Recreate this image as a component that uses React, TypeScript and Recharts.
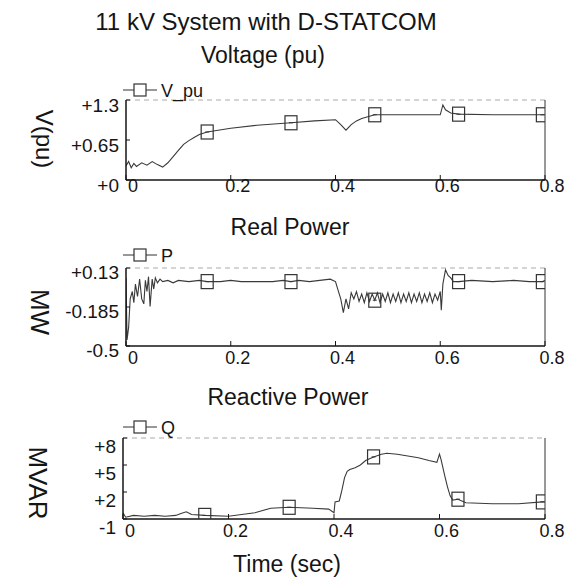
import { LineChart, Line, XAxis, YAxis, ReferenceLine } from 'recharts'

const font = '"Liberation Sans", Arial, sans-serif'
const ink = '#151515'

// time axis and marker positions (s)
const timeTicks = [0, 0.2, 0.4, 0.6, 0.8]
const markTimes = [0.155, 0.315, 0.475, 0.635, 0.795]

// voltage (pu)
const vTicks = [0, 0.65, 1.3]
const vSeries: [number, number][] = [
  [0, 0.23], [0.005, 0.3], [0.01, 0.2], [0.015, 0.27], [0.02, 0.22], [0.03, 0.28],
  [0.04, 0.24], [0.05, 0.3], [0.06, 0.25], [0.07, 0.21], [0.08, 0.28], [0.09, 0.38],
  [0.1, 0.48], [0.11, 0.58], [0.12, 0.64], [0.13, 0.69], [0.14, 0.74], [0.155, 0.78],
  [0.2, 0.84], [0.25, 0.89], [0.315, 0.93], [0.36, 0.96], [0.4, 0.98], [0.41, 0.9],
  [0.42, 0.81], [0.43, 0.9], [0.44, 0.96], [0.45, 1.0], [0.475, 1.06], [0.52, 1.06],
  [0.56, 1.06], [0.6, 1.06], [0.605, 1.22], [0.61, 1.14], [0.62, 1.09], [0.635, 1.07],
  [0.7, 1.06], [0.795, 1.06], [0.8, 1.06],
]

// real power (MW)
const pTicks = [-0.5, -0.185, 0.13]
const pSeries: [number, number][] = [
  [0, 0.05], [0.002, -0.45], [0.005, -0.35], [0.008, -0.12], [0.012, -0.06], [0.015, -0.15],
  [0.018, 0.0], [0.022, -0.1], [0.026, 0.04], [0.03, -0.12], [0.034, -0.16], [0.037, 0.03],
  [0.04, -0.06], [0.043, 0.06], [0.046, -0.18], [0.05, 0.04], [0.053, -0.04], [0.056, 0.05],
  [0.06, 0.01], [0.065, 0.04], [0.07, 0.02], [0.08, 0.03], [0.09, 0.01], [0.1, 0.03],
  [0.12, 0.02], [0.14, 0.03], [0.155, 0.02], [0.18, 0.02], [0.2, 0.03], [0.22, 0.02],
  [0.25, 0.02], [0.28, 0.02], [0.3, 0.03], [0.315, 0.02], [0.33, 0.03], [0.35, 0.02],
  [0.37, 0.03], [0.39, 0.04], [0.4, 0.02], [0.405, -0.05], [0.41, -0.12], [0.415, -0.23],
  [0.42, -0.12], [0.425, -0.2], [0.43, -0.07], [0.435, -0.12], [0.44, -0.06], [0.445, -0.14],
  [0.45, -0.08], [0.455, -0.15], [0.46, -0.07], [0.465, -0.14], [0.47, -0.08], [0.475, -0.13],
  [0.48, -0.07], [0.485, -0.15], [0.49, -0.08], [0.495, -0.14], [0.5, -0.07], [0.505, -0.15],
  [0.51, -0.08], [0.515, -0.14], [0.52, -0.07], [0.525, -0.15], [0.53, -0.08], [0.535, -0.14],
  [0.54, -0.07], [0.545, -0.15], [0.55, -0.08], [0.555, -0.14], [0.56, -0.07], [0.565, -0.15],
  [0.57, -0.08], [0.575, -0.14], [0.58, -0.07], [0.585, -0.15], [0.59, -0.08], [0.595, -0.13],
  [0.6, -0.06], [0.602, -0.21], [0.605, 0.0], [0.61, 0.115], [0.615, 0.07], [0.62, 0.05],
  [0.625, 0.02], [0.635, 0.02], [0.66, 0.03], [0.7, 0.02], [0.74, 0.03], [0.77, 0.02],
  [0.795, 0.02], [0.8, 0.03],
]

// reactive power (MVAR)
const qTicks = [-1, 2, 5, 8]
const qSeries: [number, number][] = [
  [0, -0.3], [0.005, -0.8], [0.02, -0.6], [0.04, -0.7], [0.06, -0.6], [0.08, -0.7],
  [0.1, -0.6], [0.11, -0.4], [0.12, -0.2], [0.13, -0.5], [0.155, -0.6], [0.2, -0.7],
  [0.25, -0.3], [0.28, 0.2], [0.315, 0.3], [0.36, 0.2], [0.39, 0.1], [0.4, -0.3],
  [0.402, 0.9], [0.41, 1.0], [0.415, 2.2], [0.42, 3.6], [0.425, 4.3], [0.43, 4.5],
  [0.44, 4.7], [0.45, 5.0], [0.46, 5.5], [0.475, 5.9], [0.49, 6.2], [0.5, 6.3],
  [0.52, 6.2], [0.54, 6.0], [0.56, 5.8], [0.58, 5.5], [0.595, 5.3], [0.6, 6.2],
  [0.603, 5.6], [0.61, 3.8], [0.615, 2.6], [0.62, 1.6], [0.625, 1.1], [0.635, 1.2],
  [0.65, 0.8], [0.7, 0.7], [0.75, 0.7], [0.795, 0.9], [0.8, 0.9],
]

const toRows = (s: [number, number][]) => s.map(([t, v]) => ({ t, v }))

const squareDot = (props: any) => {
  const { cx, cy, payload, index } = props
  if (!markTimes.includes(payload.t)) return <g key={index} />
  return (
    <g key={index}>
      <rect x={cx - 6} y={cy - 7} width={12} height={14} fill="none" stroke="#333" strokeWidth={1.2} />
      <line x1={cx - 2} y1={cy} x2={cx + 2} y2={cy} stroke="#333" />
    </g>
  )
}

function TimeTick({ x, y, payload, lift }: any) {
  return (
    <g>
      <line x1={x} y1={y} x2={x} y2={y - 5} stroke={ink} />
      <text x={x + 7} y={y + lift} textAnchor="middle" fontSize={18} fill={ink} fontFamily={font}>
        {payload.value}
      </text>
    </g>
  )
}

function ValueTick({ x, y, payload, drop }: any) {
  const v = payload.value
  return (
    <g>
      <line x1={x} y1={y} x2={x + 4} y2={y} stroke={ink} />
      <text x={x - 7} y={y + drop} textAnchor="end" dominantBaseline="central" fontSize={19} fill={ink} fontFamily={font}>
        {v >= 0 ? `+${v}` : `${v}`}
      </text>
    </g>
  )
}

function Panel({ rows, ticks, domain, top, height, marginTop, left, lift, drop }: any) {
  return (
    <div style={{ position: 'absolute', left: 0, top }}>
      <LineChart width={576} height={height} data={rows} margin={{ top: marginTop, right: 31, bottom: 0, left: left - 40 }}>
        <XAxis
          dataKey="t" type="number" domain={[0, 0.8]} ticks={timeTicks} height={30}
          tickLine={false} tickSize={0} tickMargin={0} stroke={ink} strokeWidth={1.5}
          tick={(p: any) => <TimeTick {...p} lift={lift} />} interval={0} allowDataOverflow
        />
        <YAxis
          type="number" domain={domain} ticks={ticks} width={40}
          tickLine={false} tickSize={0} tickMargin={0} stroke={ink} strokeWidth={1.5}
          tick={(p: any) => <ValueTick {...p} drop={drop} />} interval={0} allowDataOverflow
        />
        <ReferenceLine y={domain[1]} stroke="#aaa" strokeDasharray="5 4" />
        <ReferenceLine x={0.8} stroke="#333" />
        <Line dataKey="v" type="linear" stroke="#3a3a3a" strokeWidth={1.1} dot={squareDot} isAnimationActive={false} />
      </LineChart>
    </div>
  )
}

function LegendKey({ x, y, label }: { x: number; y: number; label: string }) {
  return (
    <g>
      <line x1={x} y1={y} x2={x + 34} y2={y} stroke="#333" strokeWidth={1.2} />
      <rect x={x + 11} y={y - 6} width={12} height={12} fill="#fff" stroke="#333" strokeWidth={1.2} />
      <text x={x + 38} y={y + 7} fontSize={18} fill={ink} fontFamily={font}>{label}</text>
    </g>
  )
}

export default function App() {
  return (
    <div style={{ position: 'absolute', left: 0, top: 0, width: 576, height: 583, background: '#fff', fontFamily: font }}>
      <Panel rows={toRows(vSeries)} ticks={vTicks} domain={[0, 1.3]} top={0} height={210} marginTop={100} left={126} lift={12} drop={5} />
      <Panel rows={toRows(pSeries)} ticks={pTicks} domain={[-0.5, 0.13]} top={240} height={136} marginTop={28} left={126} lift={18} drop={4} />
      <Panel rows={toRows(qSeries)} ticks={qTicks} domain={[-1, 8]} top={410} height={139} marginTop={28} left={123} lift={18} drop={8} />
      <svg width={576} height={583} style={{ position: 'absolute', left: 0, top: 0, pointerEvents: 'none' }}>
        <text x={266} y={30} textAnchor="middle" fontSize={24} fill={ink} fontFamily={font}>11 kV System with D-STATCOM</text>
        <text x={263} y={63} textAnchor="middle" fontSize={23} fill={ink} fontFamily={font}>Voltage (pu)</text>
        <text x={290} y={235} textAnchor="middle" fontSize={23} fill={ink} fontFamily={font}>Real Power</text>
        <text x={288} y={405} textAnchor="middle" fontSize={23} fill={ink} fontFamily={font}>Reactive Power</text>
        <text x={287} y={572} textAnchor="middle" fontSize={23} fill={ink} fontFamily={font}>Time (sec)</text>
        <text x={44} y={139} transform="rotate(90 44 139)" textAnchor="middle" dominantBaseline="central" fontSize={24} fill={ink} fontFamily={font}>V(pu)</text>
        <text x={40} y={312} transform="rotate(90 40 312)" textAnchor="middle" dominantBaseline="central" fontSize={26} fill={ink} fontFamily={font}>MW</text>
        <text x={38} y={483} transform="rotate(90 38 483)" textAnchor="middle" dominantBaseline="central" fontSize={26} fill={ink} fontFamily={font}>MVAR</text>
        <LegendKey x={123} y={90} label="V_pu" />
        <LegendKey x={123} y={255} label="P" />
        <LegendKey x={123} y={427} label="Q" />
      </svg>
    </div>
  )
}
